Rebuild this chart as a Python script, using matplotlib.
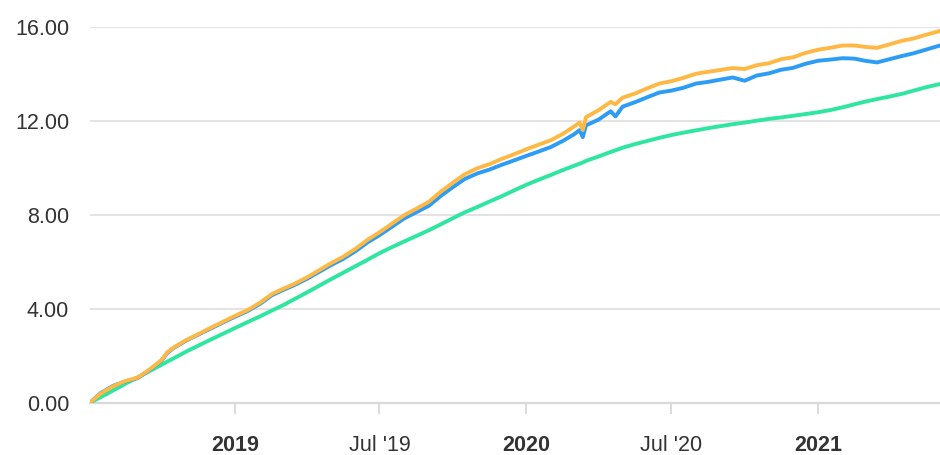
import matplotlib
matplotlib.use('Agg')
import matplotlib.pyplot as plt
import matplotlib.dates as mdates
import pandas as pd

plt.rcParams['font.family'] = ['Liberation Sans', 'DejaVu Sans']

# ==================================================
#   Data (cumulative values)
dates = ['2018-07-03', '2018-07-16', '2018-08-01', '2018-08-16', '2018-09-01', '2018-09-16',
         '2018-10-01', '2018-10-08', '2018-10-16', '2018-11-01', '2018-11-16', '2018-12-01',
         '2018-12-16', '2019-01-01', '2019-01-16', '2019-02-01', '2019-02-16', '2019-03-01',
         '2019-03-16', '2019-04-01', '2019-04-16', '2019-05-01', '2019-05-16', '2019-06-01',
         '2019-06-16', '2019-07-01', '2019-07-16', '2019-08-01', '2019-08-16', '2019-09-01',
         '2019-09-16', '2019-10-01', '2019-10-16', '2019-11-01', '2019-11-16', '2019-12-01',
         '2019-12-16', '2020-01-01', '2020-01-16', '2020-02-01', '2020-02-16', '2020-03-01',
         '2020-03-08', '2020-03-12', '2020-03-16', '2020-04-01', '2020-04-16', '2020-04-22',
         '2020-05-01', '2020-05-16', '2020-06-01', '2020-06-16', '2020-07-01', '2020-07-16',
         '2020-08-01', '2020-08-16', '2020-09-01', '2020-09-16', '2020-10-01', '2020-10-16',
         '2020-11-01', '2020-11-16', '2020-12-01', '2020-12-16', '2021-01-01', '2021-01-16',
         '2021-02-01', '2021-02-16', '2021-03-01', '2021-03-16', '2021-04-01', '2021-04-16',
         '2021-05-01', '2021-05-16', '2021-06-03']

green = [0.00, 0.23, 0.52, 0.80, 1.08, 1.35,
         1.62, 1.75, 1.89, 2.18, 2.43, 2.68,
         2.92, 3.18, 3.42, 3.67, 3.92, 4.13,
         4.40, 4.69, 4.97, 5.25, 5.52, 5.81,
         6.08, 6.36, 6.61, 6.86, 7.09, 7.34,
         7.59, 7.85, 8.10, 8.33, 8.56, 8.78,
         9.02, 9.27, 9.48, 9.69, 9.90, 10.08,
         10.17, 10.22, 10.29, 10.48, 10.67, 10.74,
         10.85, 11.00, 11.14, 11.27, 11.39, 11.49,
         11.59, 11.68, 11.77, 11.85, 11.92, 12.00,
         12.08, 12.14, 12.21, 12.28, 12.36, 12.45,
         12.57, 12.70, 12.81, 12.92, 13.03, 13.14,
         13.28, 13.42, 13.56]

blue = [0.00, 0.40, 0.72, 0.90, 1.05, 1.40,
        1.80, 2.12, 2.33, 2.65, 2.90, 3.15,
        3.40, 3.66, 3.89, 4.20, 4.57, 4.78,
        5.00, 5.27, 5.56, 5.85, 6.11, 6.45,
        6.82, 7.13, 7.47, 7.84, 8.10, 8.38,
        8.80, 9.17, 9.52, 9.76, 9.92, 10.12,
        10.30, 10.50, 10.68, 10.88, 11.14, 11.42,
        11.60, 11.30, 11.80, 12.05, 12.40, 12.18,
        12.60, 12.78, 13.00, 13.20, 13.28, 13.40,
        13.58, 13.65, 13.75, 13.84, 13.70, 13.92,
        14.02, 14.17, 14.25, 14.42, 14.55, 14.60,
        14.66, 14.64, 14.55, 14.48, 14.62, 14.75,
        14.87, 15.02, 15.20]

orange = [0.00, 0.38, 0.70, 0.92, 1.07, 1.42,
          1.82, 2.15, 2.35, 2.67, 2.92, 3.18,
          3.43, 3.70, 3.93, 4.25, 4.62, 4.83,
          5.05, 5.33, 5.63, 5.93, 6.20, 6.55,
          6.93, 7.25, 7.60, 7.98, 8.25, 8.55,
          8.98, 9.36, 9.72, 9.98, 10.15, 10.37,
          10.56, 10.78, 10.97, 11.17, 11.44, 11.75,
          11.92, 11.60, 12.15, 12.45, 12.80, 12.70,
          12.98, 13.15, 13.38, 13.58, 13.68, 13.82,
          14.00, 14.08, 14.16, 14.24, 14.20, 14.36,
          14.45, 14.62, 14.70, 14.88, 15.02, 15.10,
          15.20, 15.20, 15.14, 15.10, 15.25, 15.40,
          15.50, 15.65, 15.82]

yticks = [0, 4, 8, 12, 16]
xticks = ['2019-01-01', '2019-07-01', '2020-01-01', '2020-07-01', '2021-01-01']
xlabels = ['2019', "Jul '19", '2020', "Jul '20", '2021']

# ==================================================
d = pd.to_datetime(dates)

fig = plt.figure(figsize=(9.4, 4.55), dpi=100)
ax = fig.add_axes([90 / 940, (455 - 402.7) / 455, 850 / 940, (402.7 - 26.7) / 455])

ax.plot(d, green, color='#2FE6A0', lw=2.8, solid_joinstyle='round', zorder=3)
ax.plot(d, blue, color='#2C9CF5', lw=2.8, solid_joinstyle='round', zorder=4)
ax.plot(d, orange, color='#FFB844', lw=2.8, solid_joinstyle='round', zorder=5)

ax.set_xlim(d[0], d[-1])
ax.set_ylim(0, 16)

ax.set_yticks(yticks)
ax.set_yticklabels(['%.2f' % v for v in yticks])
ax.yaxis.grid(True, color='#e0e0e0', lw=1.3)
ax.set_axisbelow(True)
ax.tick_params(axis='y', length=0, pad=15, labelsize=15.5, labelcolor='#333333')

ax.set_xticks(pd.to_datetime(xticks))
ax.set_xticklabels(xlabels)
for lab in ax.get_xticklabels():
    if "'" not in lab.get_text():
        lab.set_fontweight('bold')
ax.tick_params(axis='x', length=8, width=1.2, color='#d6d6d6', pad=15,
               labelsize=15.5, labelcolor='#333333')

for s in ['top', 'right', 'left']:
    ax.spines[s].set_visible(False)
ax.spines['bottom'].set_color('#d8d8d8')
ax.spines['bottom'].set_linewidth(1.6)

plt.savefig('out.png', dpi=100)
